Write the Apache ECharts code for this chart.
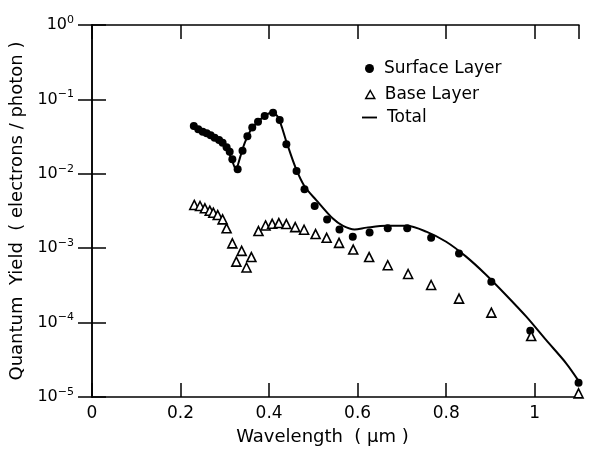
<!DOCTYPE html>
<html>
<head>
<meta charset="utf-8">
<script src="https://cdn.jsdelivr.net/npm/echarts@6/dist/echarts.min.js"></script>
<style>html,body{margin:0;padding:0;background:#fff}#c{width:589px;height:451px}</style>
</head>
<body>
<div id="c"></div>
<script>
// Surface layer (filled circles)
const surfaceX = [0.230,0.240,0.250,0.259,0.268,0.277,0.287,0.295,0.304,0.311,0.317,0.329,
  0.340,0.351,0.362,0.375,0.390,0.409,0.424,0.439,0.462,0.480,0.503,0.531,0.559,0.589,
  0.627,0.668,0.712,0.766,0.829,0.902,0.990,1.099];
const surfaceY = [0.044,0.0396,0.0368,0.035,0.0329,0.0306,0.0284,0.0262,0.0227,0.0198,0.0157,0.0115,
  0.0204,0.032,0.042,0.050,0.060,0.066,0.053,0.025,0.0109,0.0062,0.0037,0.00244,0.00179,0.00143,
  0.00162,0.00185,0.00185,0.00138,0.00085,0.000355,0.000078,0.0000156];
// Base layer (open triangles)
const baseX = [0.231,0.244,0.255,0.266,0.274,0.284,0.295,0.304,0.317,0.326,0.338,0.349,0.360,
  0.376,0.392,0.407,0.422,0.439,0.459,0.479,0.505,0.530,0.558,0.590,0.626,0.668,0.714,0.766,
  0.829,0.902,0.992,1.099];
const baseY = [0.00381,0.00369,0.00344,0.00319,0.0030,0.00279,0.00244,0.00185,0.00116,0.00066,0.00092,0.00055,0.00076,
  0.0017,0.00202,0.00213,0.00218,0.00211,0.00192,0.00177,0.00155,0.00138,0.00118,0.00096,0.00076,0.00059,0.00045,0.00032,
  0.00021,0.000136,0.000066,0.0000112];
// Total (solid line)
const totalX = [0.230,0.250,0.270,0.290,0.305,0.315,0.325,0.335,0.345,0.360,0.375,0.390,0.405,0.420,0.440,0.460,
  0.480,0.507,0.544,0.567,0.593,0.620,0.665,0.710,0.755,0.800,0.845,0.890,0.935,0.981,1.026,1.071,1.099];
const totalY = [0.044,0.038,0.032,0.027,0.021,0.016,0.0115,0.017,0.026,0.040,0.050,0.060,0.066,0.058,0.026,0.012,
  0.0068,0.0044,0.0025,0.0020,0.00179,0.00189,0.0020,0.0020,0.00167,0.00122,0.00077,0.00044,0.000235,0.00012,0.000058,0.0000284,0.0000165];
const xTicks = [0,0.2,0.4,0.6,0.8,1];
const yTicks = [1e-5,1e-4,1e-3,1e-2,1e-1,1];

const zip = (a,b)=>a.map((v,i)=>[v,b[i]]);
const FONT = 'DejaVu Sans';
const chart = echarts.init(document.getElementById('c'), null, {renderer:'canvas'});
const axisLine = {show:true, lineStyle:{color:'#000', width:1.5}};
const tick = {show:true, inside:true, length:14, lineStyle:{color:'#000', width:1.5}};
const legText = {color:'#000', fontFamily:FONT, fontSize:17, padding:[0,0,0,5]};
chart.setOption({
  animation:false,
  backgroundColor:'#fff',
  grid:{left:92, right:10, top:25, bottom:54, containLabel:false},
  xAxis:[{
    type:'value', min:0, max:1.1, interval:0.2, position:'bottom',
    axisLine:axisLine, axisTick:tick, splitLine:{show:false},
    axisLabel:{color:'#000', fontFamily:FONT, fontSize:17, margin:8, showMaxLabel:false,
      formatter:v=> xTicks.includes(Math.round(v*10)/10) ? String(Math.round(v*10)/10) : ''},
    name:'Wavelength  ( \u03bcm )', nameLocation:'middle', nameGap:31,
    nameTextStyle:{color:'#000', fontFamily:FONT, fontSize:18, padding:[0,26,0,0]}
  },{
    type:'value', min:0, max:1.1, interval:0.2, position:'top',
    axisLine:axisLine, axisTick:tick, axisLabel:{show:false}, splitLine:{show:false}
  }],
  yAxis:[{
    type:'log', logBase:10, min:1e-5, max:1, position:'left',
    axisLine:axisLine, axisTick:tick, splitLine:{show:false}, minorTick:{show:false},
    axisLabel:{color:'#000', fontFamily:FONT, fontSize:16, margin:18,
      formatter:v=>{const e=Math.round(Math.log10(v)); return '10{s|'+(e===0?'0':'\u2212'+(-e))+'}';},
      rich:{s:{fontSize:11, fontFamily:FONT, verticalAlign:'top', padding:[0,0,10,0]}}},
    name:'Quantum  Yield  ( electrons / photon )', nameLocation:'middle', nameGap:60,
    nameTextStyle:{color:'#000', fontFamily:FONT, fontSize:18}
  },{
    type:'log', logBase:10, min:1e-5, max:1, position:'right',
    axisLine:axisLine, axisTick:tick, axisLabel:{show:false}, splitLine:{show:false}
  }],
  legend:[{
    left:360, top:55, itemWidth:9, itemHeight:9, textStyle:legText,
    data:[{name:'Surface Layer', icon:'circle', itemStyle:{color:'#000', opacity:1}}]
  },{
    left:360, top:81, itemWidth:9, itemHeight:8, textStyle:legText,
    data:[{name:'Base Layer', icon:'triangle', itemStyle:{color:'#fff', borderColor:'#000', borderWidth:1.5, opacity:1}}]
  },{
    left:357, top:104, itemWidth:15, itemHeight:2, textStyle:legText,
    data:[{name:'Total', icon:'path://M0,0L16,0L16,2L0,2Z', itemStyle:{color:'#000'}}]
  }],
  series:[{
    name:'Total', type:'line', data:zip(totalX,totalY), showSymbol:false, symbol:'none',
    smooth:0.3, lineStyle:{color:'#000', width:2}, itemStyle:{color:'#000'}, z:2
  },{
    name:'Surface Layer', type:'scatter', data:zip(surfaceX,surfaceY), symbol:'circle', symbolSize:8,
    itemStyle:{color:'#000', opacity:1}, z:3
  },{
    name:'Base Layer', type:'scatter', data:zip(baseX,baseY), symbol:'triangle', symbolSize:9,
    itemStyle:{color:'#fff', borderColor:'#000', borderWidth:1.6, opacity:1}, z:3
  }]
});
</script>
</body>
</html>
